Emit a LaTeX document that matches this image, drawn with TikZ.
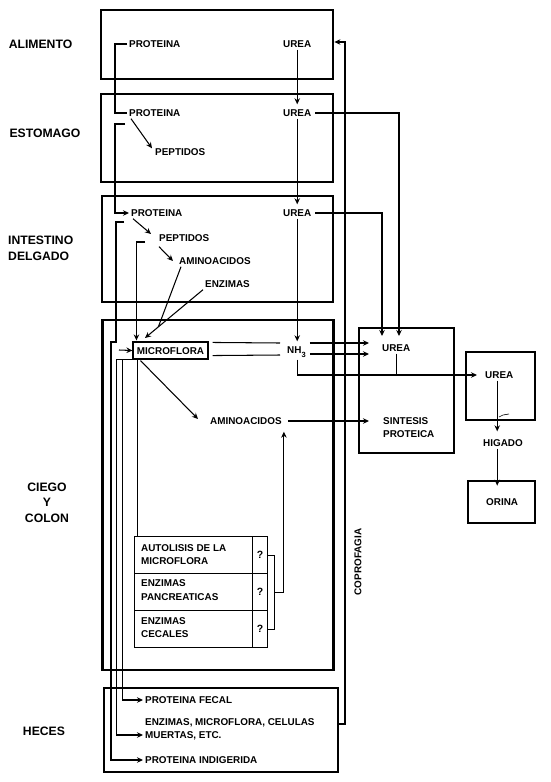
\documentclass[tikz,border=0pt]{standalone}
\usepackage{fontspec}
\setmainfont{Liberation Sans}
\usetikzlibrary{arrows.meta,calc}
\begin{document}
\begin{tikzpicture}[x=1pt,y=-1pt,
  ln/.style={line width=1.05pt},
  arr/.style={line width=1.05pt,-{Stealth[length=6pt,width=5.5pt]}},
  bigbox/.style={draw,line width=2.8pt,inner sep=0pt},
  txt/.style={font=\fontsize{9.9}{13}\selectfont\bfseries,inner sep=2pt,text height=7pt,text depth=0pt,anchor=west},
  mtxt/.style={font=\fontsize{9.9}{13.5}\selectfont\bfseries,inner sep=0pt,align=left,anchor=west},
  lab/.style={font=\fontsize{12.2}{15}\selectfont\bfseries,inner sep=0pt,text height=8.7pt,text depth=0pt},
  cell/.style={draw,line width=1.2pt,inner sep=0pt,anchor=north west}]
\useasboundingbox (0,0) rectangle (550,782);

% ---------- main boxes
\node[bigbox,minimum width=232,minimum height=69] (b1) at (217,44.5) {};
\node[bigbox,minimum width=232,minimum height=88] (b2) at (217,138) {};
\node[bigbox,minimum width=231,minimum height=106] (b3) at (217.5,249) {};
\node[bigbox,minimum width=231,minimum height=350] (b4) at (218,495) {};
\node[bigbox,minimum width=234,minimum height=84] (b5) at (221,730) {};
\node[bigbox,minimum width=95,minimum height=125] (bs) at (406.5,390.5) {};
\node[bigbox,minimum width=69,minimum height=68] (br) at (500.5,386) {};
\node[bigbox,minimum width=67,minimum height=42] (bo) at (501.5,502) {};

% ---------- left labels
\node[lab] (lA) at (40.5,44) {ALIMENTO};
\node[lab] (lE) at (45,133) {ESTOMAGO};
\node[lab,anchor=west] (lI1) at (8,240) {INTESTINO};
\node[lab,anchor=west] (lI2) at (8,256) {DELGADO};
\node[lab] (lC1) at (47,487) {CIEGO};
\node[lab] (lC2) at (47,502) {Y};
\node[lab] (lC3) at (47,518) {COLON};
\node[lab] (lH) at (44,731) {HECES};

% ---------- texts in boxes
\node[txt] (p1) at (127,44) {PROTEINA};
\node[txt] (u1) at (281,44) {UREA};
\node[txt] (p2) at (127,113) {PROTEINA};
\node[txt] (pe2) at (153,152) {PEPTIDOS};
\node[txt] (u2) at (281,113) {UREA};
\node[txt] (p3) at (129,213) {PROTEINA};
\node[txt] (pe3) at (157,238) {PEPTIDOS};
\node[txt] (am3) at (177,261) {AMINOACIDOS};
\node[txt] (en3) at (203,284) {ENZIMAS};
\node[txt] (u3) at (281,213) {UREA};

\node[draw,line width=1.1pt,minimum width=75,minimum height=17,inner sep=0pt,
      font=\fontsize{9.9}{13}\selectfont\bfseries,text height=7pt,text depth=0pt] (mic) at (170.5,350.5) {MICROFLORA};
\node[txt] (nh) at (285,350) {NH\raisebox{-3.5pt}{\fontsize{7.5}{8}\selectfont 3}};
\node[txt] (am4) at (208,421) {AMINOACIDOS};

% table
\node[cell,minimum width=118,minimum height=37] (a1) at (134,536) {};
\node[cell,minimum width=118,minimum height=37] (a2) at (134,573) {};
\node[cell,minimum width=118,minimum height=37] (a3) at (134,610) {};
\node[cell,minimum width=15,minimum height=37,font=\fontsize{10.5}{12}\selectfont\bfseries] (q1) at (252,536) {?};
\node[cell,minimum width=15,minimum height=37,font=\fontsize{10.5}{12}\selectfont\bfseries] (q2) at (252,573) {?};
\node[cell,minimum width=15,minimum height=37,font=\fontsize{10.5}{12}\selectfont\bfseries] (q3) at (252,610) {?};
\node[mtxt] (t1) at (141,554.5) {AUTOLISIS DE LA\\MICROFLORA};
\node[mtxt] (t2) at (141,590) {ENZIMAS\\PANCREATICAS};
\node[mtxt] (t3) at (141,627.5) {ENZIMAS\\CECALES};

% heces texts
\node[txt] (fec) at (143,700) {PROTEINA FECAL};
\node[txt] (enzA) at (143,722) {ENZIMAS, MICROFLORA, CELULAS};
\node[txt] (enzB) at (143,735) {MUERTAS, ETC.};
\node[txt] (ind) at (143,760) {PROTEINA INDIGERIDA};

% right side texts
\node[txt] (usb) at (380,348) {UREA};
\node[txt] (s1) at (381,421) {SINTESIS};
\node[txt] (s2) at (381,434) {PROTEICA};
\node[txt] (ru) at (483,375) {UREA};
\node[txt] (hig) at (481,443) {HIGADO};
\node[txt] (ori) at (484,502) {ORINA};

\node[font=\fontsize{9.9}{13}\selectfont\bfseries,inner sep=0pt,rotate=90] (cop) at (358,562) {COPROFAGIA};

% ---------- connectors: protein path
\draw[ln] (p1.west) -- ++(-12,0) |- (p2.west);
\coordinate (s2a) at (125,124);
\draw[arr] (s2a) -- ++(-10,0) |- (p3.west);
\draw[arr] ($(p2.south west)+(4,0)$) -- ($(pe2.north west)+(-1,2)$);
\draw[arr] ($(p3.south west)+(4,0)$) -- ($(pe3.west)+(-6,-4)$);
\draw[arr] ($(pe3.south west)+(2,3)$) -- ($(am3.west)+(-4,0)$);

\coordinate (s3a) at (124,222);
\draw[arr] (s3a) -- (116,222) -- (116,342) -- (111,342) |- (ind.west);
\coordinate (s3b) at (145,242);
\draw[arr] (s3b) -| ($(mic.north west)+(4,-1)$);
\coordinate (tipM) at (145,338);
\draw[arr] (en3.south west) -- (tipM);
\draw[ln] ($(am3.south west)+(4,0)$) -- ($(en3.south west)!0.77!(tipM)$);
\coordinate (mc0) at (119,350);
\draw[arr] (mc0) -- (mic.west);

\draw[arr] (mic.south west) -- ++(-16,0) |- (enzB.west);
\draw[arr] ($(mic.south west)+(-10,0)$) |- (fec.west);
\draw[ln] (mic.south west) ++(5.5,0) coordinate (md) -- (md |- a1.north);
\draw[arr] ($(mic.south west)+(8,1)$) -- ($(am4.west)+(-10,-2)$);

% microflora -> NH3 -> urea
\draw[ln] ($(mic.north east)+(4,1)$) -- ($(nh.west)+(-5,-7)$);
\draw[ln] ($(mic.south east)+(4,-4)$) -- ($(nh.west)+(-5,5)$);
\draw[arr] ($(nh.east)+(2,-7)$) -- ($(usb.west)+(-11,-5)$);
\draw[arr] ($(nh.east)+(2,4)$) -- ($(usb.west)+(-11,6)$);

% urea chain
\draw[arr] (u1.south) -- ($(u2.north)+(0,-3)$);
\draw[arr] (u2.south) -- ($(u3.north)+(0,-3)$);
\draw[arr] (u3.south) -- ($(u3.south |- nh.north)+(0,-3)$);
\draw[arr] ($(u3.south |- nh.south)+(0,4)$) |- ($(ru.west)+(-6,0)$);
\draw[ln] (usb.south) -- (usb.south |- ru.west);
\coordinate (t1) at (399,336);
\coordinate (t2) at (382,336);
\draw[arr] ($(u2.east)+(2,0)$) -| (t1);
\draw[arr] ($(u3.east)+(2,0)$) -| (t2);

% table bracket -> aminoacidos -> sintesis
\draw[ln] (q1.east) -- ++(6,0) coordinate (k1) -- (k1 |- q3.east) -- (q3.east);
\draw[arr] (k1 |- q2.east) -| ($(am4.south east)+(0,5)$);
\draw[arr] ($(am4.east)+(4,0)$) -- ($(s1.west)+(-12,0)$);

% right column
\draw[arr] ($(ru.south)+(-2,0)$) -- ($(ru.south |- hig.north)+(-2,-6)$);
\draw[arr] ($(ru.south |- hig.south)+(-2,0)$) -- ($(ru.south |- bo.north)+(-2,6)$);
\draw[line width=0.6pt] (499,417) -- (503,415) -- (509,414);

% coprofagia
\coordinate (cp1) at (345,724);
\coordinate (cp2) at (345,42);
\draw[arr] (b5.east |- cp1) -- (cp1) -- (cp2) -- (b1.east |- cp2);
\end{tikzpicture}
\end{document}
